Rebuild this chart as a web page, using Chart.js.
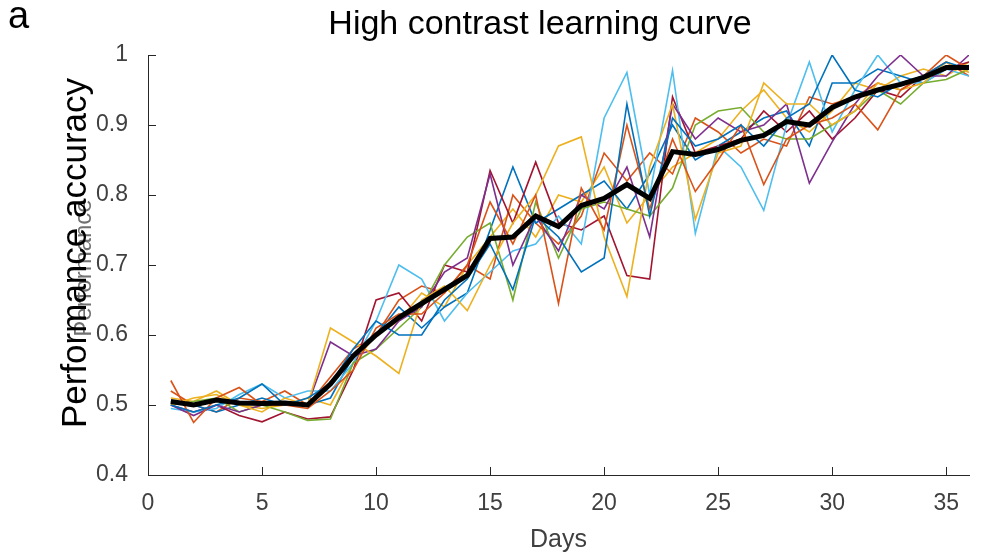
<!DOCTYPE html>
<html>
<head>
<meta charset="utf-8">
<script src="https://cdn.jsdelivr.net/npm/chart.js@4.4.1/dist/chart.umd.min.js"></script>
<style>
  html, body { margin: 0; padding: 0; background: #fff; }
  #wrap { width: 992px; height: 555px; }
</style>
</head>
<body>
<div id="wrap"><canvas id="curve"></canvas></div>
<script>
// days of training
const days = [1,2,3,4,5,6,7,8,9,10,11,12,13,14,15,16,17,18,19,20,21,22,23,24,25,26,27,28,29,30,31,32,33,34,35,36];
const yTicks = [0.4, 0.5, 0.6, 0.7, 0.8, 0.9, 1];
const xTicks = [0, 5, 10, 15, 20, 25, 30, 35];

// individual animals
const animal1 = [0.50,0.49,0.50,0.51,0.53,0.50,0.51, 0.53,0.58,0.62,0.60,0.60,0.65,0.68, 0.73,0.665,0.77,0.74,0.69,0.71,0.93, 0.77,0.91,0.87,0.88,0.90,0.87,0.91, 0.93,1.00,0.95,0.94,0.96,0.97,0.99,0.98];
const animal2 = [0.535,0.475,0.51,0.525,0.50,0.50,0.495, 0.52,0.55,0.61,0.63,0.63,0.66,0.70, 0.79,0.73,0.80,0.645,0.81,0.75,0.90, 0.78,0.88,0.805,0.85,0.90,0.815,0.88, 0.90,0.91,0.93,0.893,0.95,0.97,1.00,0.98];
const animal3 = [0.50,0.51,0.515,0.50,0.49,0.51,0.50, 0.61,0.59,0.57,0.545,0.65,0.67,0.635, 0.70,0.76,0.80,0.87,0.883,0.74,0.655, 0.84,0.93,0.765,0.86,0.87,0.96,0.93, 0.93,0.90,0.92,0.96,0.95,0.96,0.99,0.975];
const animal4 = [0.50,0.485,0.50,0.49,0.50,0.50,0.50, 0.59,0.57,0.58,0.62,0.64,0.69,0.71, 0.83,0.70,0.77,0.72,0.80,0.78,0.84, 0.74,0.93,0.88,0.91,0.89,0.90,0.93, 0.817,0.876,0.93,0.97,1.00,0.97,0.97,1.00];
const animal5 = [0.50,0.505,0.51,0.49,0.50,0.49,0.478, 0.48,0.56,0.58,0.61,0.64,0.70,0.74, 0.76,0.65,0.79,0.71,0.78,0.79,0.78, 0.77,0.81,0.90,0.92,0.925,0.89,0.88, 0.88,0.90,0.92,0.95,0.93,0.96,0.965,0.98];
const animal6 = [0.495,0.49,0.495,0.515,0.53,0.51,0.52, 0.52,0.56,0.62,0.70,0.68,0.62,0.66, 0.69,0.72,0.73,0.77,0.73,0.91,0.975, 0.80,0.978,0.745,0.87,0.84,0.778,0.90, 0.99,0.89,0.95,1.00,0.96,0.96,0.98,0.97];
const animal7 = [0.50,0.49,0.50,0.485,0.476,0.49,0.48, 0.483,0.55,0.65,0.66,0.62,0.70,0.69, 0.835,0.76,0.847,0.76,0.75,0.77,0.685, 0.68,0.94,0.86,0.87,0.88,0.92,0.89, 0.92,0.88,0.91,0.95,0.94,0.97,0.98,0.99];
const animal8 = [0.505,0.50,0.49,0.50,0.51,0.50,0.50, 0.51,0.57,0.60,0.64,0.61,0.64,0.66, 0.75,0.84,0.76,0.78,0.80,0.82,0.78, 0.83,0.90,0.85,0.87,0.89,0.91,0.92, 0.87,0.96,0.96,0.98,0.97,0.96,0.98,0.985];
const animal9 = [0.52,0.50,0.49,0.51,0.505,0.52,0.50, 0.54,0.58,0.60,0.65,0.67,0.66,0.70, 0.68,0.80,0.76,0.73,0.77,0.86,0.82, 0.86,0.83,0.91,0.89,0.86,0.88,0.87, 0.94,0.93,0.94,0.96,0.95,0.97,0.99,0.97];
const animal10 = [0.51,0.505,0.52,0.50,0.495,0.50,0.51, 0.50,0.56,0.60,0.62,0.66,0.64,0.70, 0.74,0.78,0.74,0.80,0.79,0.84,0.76, 0.80,0.84,0.86,0.88,0.92,0.95,0.91, 0.89,0.92,0.96,0.95,0.97,0.98,0.97,0.99];

// group mean
const meanCurve = [0.505,0.50,0.507,0.503,0.502,0.503,0.50, 0.53,0.57,0.60,0.625,0.645,0.665,0.685, 0.738,0.74,0.77,0.755,0.785,0.795,0.815, 0.795,0.862,0.858,0.865,0.878,0.885,0.905, 0.90,0.925,0.94,0.95,0.958,0.968,0.982,0.982];

const animals = [animal1, animal2, animal3, animal4, animal5, animal6, animal7, animal8, animal9, animal10];
const matlabColors = ['#0072BD', '#D95319', '#EDB120', '#7E2F8E', '#77AC30', '#4DBEEE', '#A2142F'];

const axisColor = '#262626';
const labelFont = "'Liberation Sans', Arial, sans-serif";

function toPoints(vals) {
  return vals.map((v, i) => ({ x: days[i], y: v }));
}

const datasets = animals.map((a, i) => ({
  data: toPoints(a),
  borderColor: matlabColors[i % matlabColors.length],
  borderWidth: 1.6,
  pointRadius: 0,
  tension: 0,
  order: 1
}));
datasets.push({
  data: toPoints(meanCurve),
  borderColor: '#000',
  borderWidth: 5,
  pointRadius: 0,
  tension: 0,
  order: 0
});

// inward tick marks, panel letter, title and y label (MATLAB look)
const decorations = {
  id: 'decorations',
  afterDraw(chart) {
    const ctx = chart.ctx;
    const area = chart.chartArea;
    const xs = chart.scales.x, ys = chart.scales.y;
    ctx.save();
    ctx.strokeStyle = axisColor;
    ctx.lineWidth = 1;
    ctx.beginPath();
    xTicks.forEach(t => {
      const px = Math.round(xs.getPixelForValue(t)) + 0.5;
      ctx.moveTo(px, area.bottom);
      ctx.lineTo(px, area.bottom - 8);
    });
    yTicks.forEach(t => {
      const py = Math.round(ys.getPixelForValue(t)) + 0.5;
      ctx.moveTo(area.left, py);
      ctx.lineTo(area.left + 8, py);
    });
    ctx.stroke();

    ctx.fillStyle = '#000';
    ctx.textBaseline = 'middle';
    ctx.textAlign = 'left';
    ctx.font = "38px " + labelFont;
    ctx.fillText('a', 8, 18);
    ctx.textAlign = 'center';
    ctx.font = "34px " + labelFont;
    ctx.fillText('High contrast learning curve', 540, 25);

    // faint leftover label behind the y title
    ctx.save();
    ctx.translate(84, 268);
    ctx.rotate(-Math.PI / 2);
    ctx.fillStyle = '#707070';
    ctx.font = "24px " + labelFont;
    ctx.fillText('Performance', 0, 0);
    ctx.restore();

    ctx.translate(76, 253);
    ctx.rotate(-Math.PI / 2);
    ctx.fillStyle = '#000';
    ctx.font = "35px " + labelFont;
    ctx.fillText('Performance accuracy', 0, 0);
    ctx.restore();
  }
};

new Chart(document.getElementById('curve'), {
  type: 'line',
  data: { datasets: datasets },
  options: {
    responsive: true,
    maintainAspectRatio: false,
    animation: false,
    layout: { padding: { top: 55, right: 23, left: 0, bottom: 0 } },
    plugins: { legend: { display: false }, tooltip: { enabled: false } },
    scales: {
      x: {
        type: 'linear',
        min: 0,
        max: 36,
        afterBuildTicks: s => { s.ticks = xTicks.map(v => ({ value: v })); },
        afterFit: s => { s.height = 80; },
        grid: { display: false },
        border: { display: true, color: axisColor, width: 1 },
        ticks: { padding: 7, color: '#404040', font: { family: labelFont, size: 23 } },
        title: { display: true, text: 'Days', color: '#404040', padding: { top: 2, bottom: 0 }, font: { family: labelFont, size: 25 } }
      },
      y: {
        min: 0.4,
        max: 1,
        afterBuildTicks: s => { s.ticks = yTicks.map(v => ({ value: v })); },
        afterFit: s => { s.width = 148; },
        grid: { display: false },
        border: { display: true, color: axisColor, width: 1 },
        ticks: {
          padding: 12,
          color: '#404040',
          font: { family: labelFont, size: 23 },
          callback: v => String(Math.round(v * 10) / 10)
        }
      }
    }
  },
  plugins: [decorations]
});
</script>
</body>
</html>
